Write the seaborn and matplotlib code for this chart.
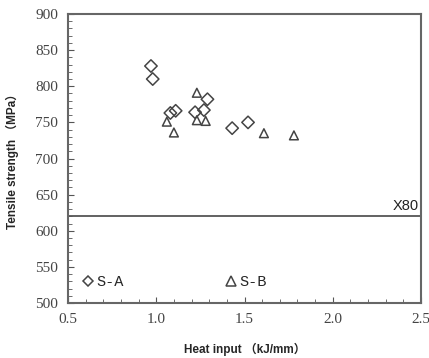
import pandas as pd
import matplotlib.pyplot as plt
import seaborn as sns
from matplotlib.ticker import MultipleLocator
from matplotlib.lines import Line2D

# S-A (diamonds) and S-B (triangles): heat input (kJ/mm) vs tensile strength (MPa)
sa_heat = [0.97, 0.98, 1.08, 1.11, 1.22, 1.27, 1.29, 1.43, 1.52]
sa_strength = [828, 810, 763, 766, 764, 767, 782, 742, 750]
sb_heat = [1.06, 1.10, 1.23, 1.23, 1.28, 1.61, 1.78]
sb_strength = [751, 736, 791, 753, 752, 735, 732]
groups = ['S-A', 'S-B']
x80_level = 620

df = pd.DataFrame({
    'heat': sa_heat + sb_heat,
    'strength': sa_strength + sb_strength,
    'steel': [groups[0]] * len(sa_heat) + [groups[1]] * len(sb_heat),
})

sns.set_style('ticks')
edge = '#444444'

fig = plt.figure(figsize=(4.29, 3.58), dpi=100)
ax = fig.add_axes([68 / 429, 1 - 303 / 358, (421 - 68) / 429, (303 - 14) / 358])

sns.scatterplot(data=df, x='heat', y='strength', style='steel',
                markers={'S-A': 'D', 'S-B': '^'},
                ax=ax, s=40, linewidth=1.1, legend=False)
# open markers with dark edges
for coll in ax.collections:
    coll.set_facecolor('none')
    coll.set_edgecolor(edge)

ax.axhline(x80_level, color='#555555', lw=1.3)
ax.text(2.485, x80_level + 5, 'X80', ha='right', va='bottom',
        fontsize=10.5, family='Liberation Sans', color='#222222')

# legend entries along the bottom
handles = [Line2D([], [], ls='none', marker='D', ms=5.5, mfc='none', mec=edge, mew=1.1),
           Line2D([], [], ls='none', marker='^', ms=7, mfc='none', mec=edge, mew=1.1)]
ax.legend(handles, groups, ncol=2, frameon=False, loc='lower left',
          bbox_to_anchor=(0.0, 0.0), handlelength=0.8, handletextpad=0.15,
          columnspacing=6.6, prop={'family': 'Liberation Mono', 'size': 11})

ax.set_xlim(0.5, 2.5)
ax.set_ylim(500, 900)
ax.xaxis.set_major_locator(MultipleLocator(0.5))
ax.xaxis.set_minor_locator(MultipleLocator(0.1))
ax.yaxis.set_major_locator(MultipleLocator(50))
ax.yaxis.set_minor_locator(MultipleLocator(10))
ax.tick_params(which='both', direction='in', color='#555555', top=False, right=False)
ax.tick_params(which='major', length=4, labelsize=11, pad=7)
ax.tick_params(which='minor', length=3)
ax.set_xticks([0.5, 1.0, 1.5, 2.0, 2.5])
ax.set_xticklabels(['0.5', '1.0', '1.5', '2.0', '2.5'])
for lab in ax.get_xticklabels() + ax.get_yticklabels():
    lab.set_family('Liberation Serif')
    lab.set_color('#444444')

for sp in ax.spines.values():
    sp.set_color('#666666')
    sp.set_linewidth(1.5)

ax.set_xlabel('Heat input （kJ/mm）', family=['Liberation Sans', 'Noto Sans CJK SC'],
              fontsize=8.5, fontweight='bold', labelpad=12)
ax.set_ylabel('Tensile strength （MPa）', family=['Liberation Sans', 'Noto Sans CJK SC'],
              fontsize=8.5, fontweight='bold', labelpad=12)

fig.savefig('out.png', dpi=100)
